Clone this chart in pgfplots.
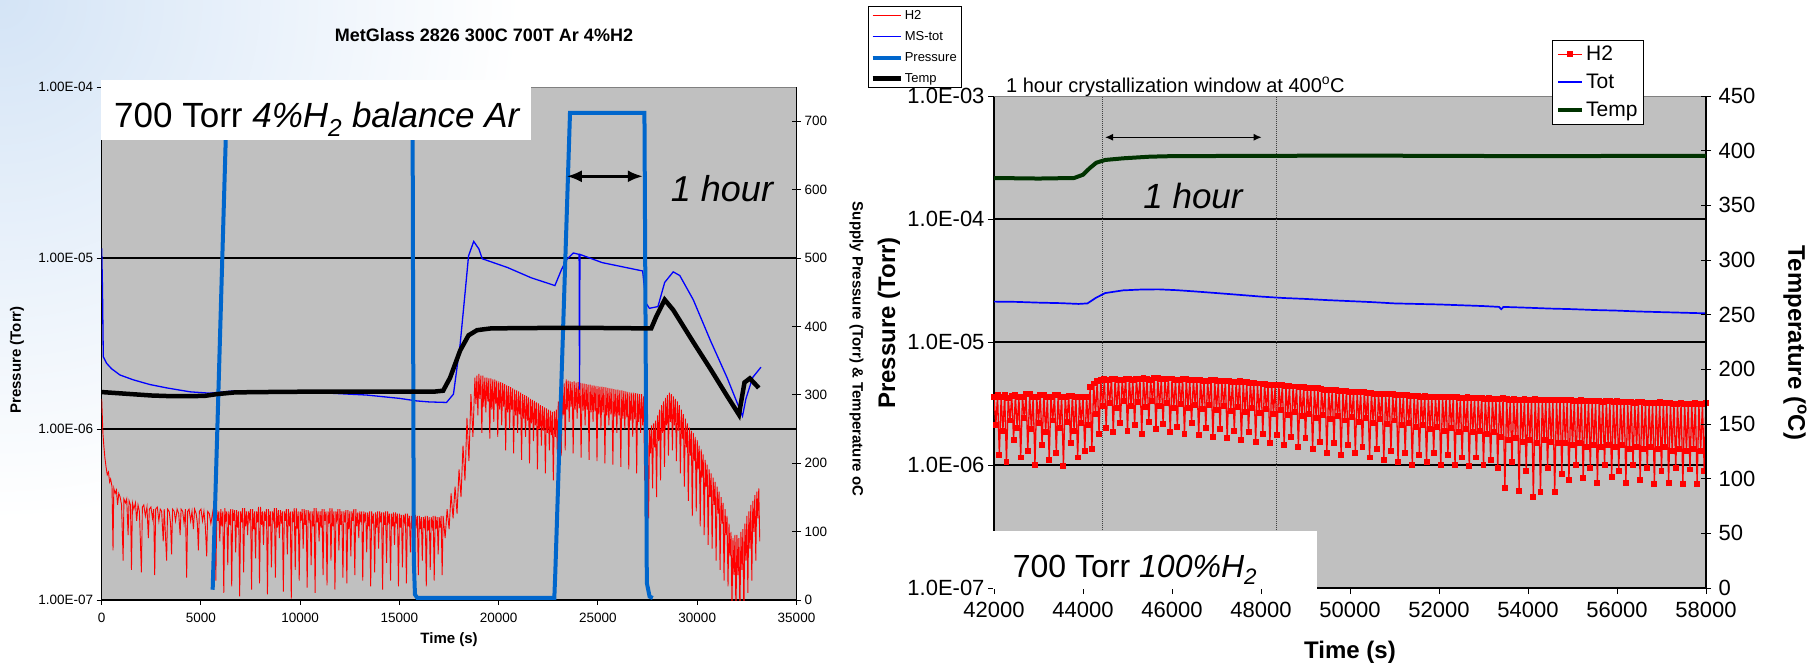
\documentclass[border=0pt]{standalone}
\usepackage{fontspec}
\setmainfont{Liberation Sans}
\usepackage{pgfplots}
\pgfplotsset{compat=1.18}
\usetikzlibrary{arrows.meta}

\definecolor{plotgray}{RGB}{192,192,192}
\definecolor{h2red}{RGB}{255,0,0}
\definecolor{totblue}{RGB}{0,0,255}
\definecolor{presblue}{RGB}{0,102,204}
\definecolor{tempgreen}{RGB}{0,51,0}
\definecolor{framegray}{RGB}{128,128,128}
\definecolor{slideblue}{RGB}{212,228,246}

\newcommand{\fs}[1]{\fontsize{#1}{#1}\selectfont}

\pgfplotsset{
  excelbase/.style={
    scale only axis,
    axis line style={-, line width=1.3pt, black},
    tick style={black, line width=1pt},
    xminorticks=false, yminorticks=false,
    scaled x ticks=false, scaled y ticks=false,
    /pgf/number format/1000 sep={},
    /pgf/number format/assume math mode=true,
  },
}

\begin{document}
\begin{tikzpicture}[x=1pt,y=1pt]
\useasboundingbox (0pt,0pt) rectangle (1810pt,665pt);
\begin{scope}
  \clip (0pt,0pt) rectangle (1810pt,665pt);
  \shade[inner color=slideblue, outer color=white] (0pt,665pt) circle (520pt);
\end{scope}

% ================= left panel: mass spectrometer signals =================
\begin{axis}[excelbase,
  width=694.8pt, height=513pt, at={(101.7pt,65pt)}, anchor=south west,
  xmin=0, xmax=35000, ymode=log, ymin=1e-7, ymax=1e-4,
  axis x line*=bottom, axis y line*=left,
  axis background/.style={fill=plotgray},
  xtick={0,5000,10000,15000,20000,25000,30000,35000},
  ytick={1e-7,1e-6,1e-5,1e-4},
  yticklabels={1.00E-07,1.00E-06,1.00E-05,1.00E-04},
  extra y ticks={1e-6,1e-5}, extra y tick labels={},
  extra y tick style={grid=major, major tick length=0pt},
  major grid style={black, line width=1.2pt},
  tick align=outside, major tick length=5pt,
  tick label style={font=\fs{13.5}},
  xticklabel style={yshift=-5pt},
  every axis x label/.style={at={(axis description cs:0.5,-0.078)}, anchor=center},
  every axis y label/.style={at={(axis description cs:-0.122,0.468)}, anchor=center, rotate=90},
  label style={font=\bfseries\fs{15}},
  every axis title/.style={at={(axis description cs:0.5502,1.1014)}, anchor=center},
  title style={font=\bfseries\fs{18}},
  xlabel={Time (s)}, ylabel={Pressure (Torr)},
  title={MetGlass 2826 300C 700T Ar 4\%H2},
]
\draw[framegray, line width=1.2pt] (rel axis cs:0,1) -- (rel axis cs:1,1);
% H2 partial pressure
\addplot[h2red, line width=0.9pt] coordinates {
(0,1.5e-6) (30,1.2e-6) (60,9.5e-7) (110,7.9e-7) (160,6.8e-7) (220,6.0e-7) (280,5.4e-7) (340,5.6e-7) (400,4.9e-7) (450,5.1e-7)
(520,4.6e-7) (570,1.95e-7) (610,4.5e-7) (680,4.2e-7) (740,4.4e-7) (800,3.6e-7) (860,4.2e-7) (930,4.0e-7) (1000,3.6e-7) (1080,1.7e-7)
(1120,3.9e-7) (1200,3.7e-7) (1260,3.9e-7) (1330,2.4e-7) (1380,3.8e-7) (1450,3.6e-7) (1500,1.5e-7) (1550,3.7e-7) (1620,3.4e-7) (1700,3.7e-7)
(1760,2.9e-7) (1830,3.6e-7) (1900,3.3e-7) (2000,1.45e-7) (2050,3.5e-7) (2120,3.6e-7) (2200,3.1e-7) (2280,3.5e-7) (2350,2.3e-7) (2400,3.4e-7)
(2480,3.5e-7) (2560,3.0e-7) (2620,3.4e-7) (2670,1.4e-7) (2720,3.4e-7) (2800,3.5e-7) (2880,2.9e-7) (2950,3.4e-7) (3020,3.3e-7) (3100,2.2e-7)
(3150,3.4e-7) (3270,1.7e-7) (3320,3.4e-7) (3400,3.3e-7) (3470,2.8e-7) (3520,1.85e-7) (3570,3.4e-7) (3650,3.3e-7) (3720,2.9e-7) (3800,3.4e-7)
(3880,3.2e-7) (3950,2.4e-7) (4000,3.4e-7) (4080,3.3e-7) (4150,2.8e-7) (4220,3.4e-7) (4280,1.35e-7) (4330,3.3e-7) (4400,3.4e-7) (4480,2.9e-7)
(4550,3.3e-7) (4620,2.6e-7) (4680,3.4e-7) (4760,3.2e-7) (4820,2.8e-7) (4870,1.95e-7) (4920,3.3e-7) (5000,3.4e-7) (5080,2.9e-7) (5150,3.3e-7)
(5220,2.7e-7) (5290,1.8e-7) (5340,3.3e-7) (5420,3.2e-7) (5500,2.8e-7)
(5600,3.3e-7) (5650,2.8e-7) (5700,3.4e-7) (5750,1.3e-7) (5800,3.35e-7) (5850,2.9e-7) (5900,3.3e-7) (5950,2.2e-7)
(6000,3.4e-7) (6050,2.7e-7) (6100,3.3e-7) (6150,1.1e-7) (6200,3.45e-7) (6250,2.95e-7) (6300,3.3e-7) (6350,1.6e-7)
(6400,3.3e-7) (6450,2.75e-7) (6500,3.4e-7) (6550,1.2e-7) (6600,3.4e-7) (6650,2.9e-7) (6700,3.35e-7) (6750,1.9e-7)
(6800,3.35e-7) (6850,2.65e-7) (6900,3.3e-7) (6950,1.05e-7) (7000,3.3e-7) (7050,2.85e-7) (7100,3.45e-7) (7150,1.45e-7)
(7200,3.45e-7) (7250,2.7e-7) (7300,3.3e-7) (7350,2.4e-7) (7400,3.3e-7) (7450,2.95e-7) (7500,3.4e-7) (7550,1.15e-7)
(7600,3.4e-7) (7650,2.6e-7) (7700,3.3e-7) (7750,1.75e-7) (7800,3.3e-7) (7850,2.85e-7) (7900,3.5e-7) (7950,1.25e-7)
(8000,3.5e-7) (8050,2.75e-7) (8100,3.3e-7) (8150,2.1e-7) (8200,3.3e-7) (8250,2.9e-7) (8300,3.4e-7) (8350,1.08e-7)
(8400,3.4e-7) (8450,2.7e-7) (8500,3.3e-7) (8550,1.55e-7) (8600,3.3e-7) (8650,2.95e-7) (8700,3.45e-7) (8750,1.35e-7)
(8800,3.45e-7) (8850,2.65e-7) (8900,3.35e-7) (8950,2.3e-7) (9000,3.35e-7) (9050,2.8e-7) (9100,3.3e-7) (9150,1.12e-7)
(9200,3.3e-7) (9250,2.9e-7) (9300,3.4e-7) (9350,1.85e-7) (9400,3.4e-7) (9450,2.7e-7) (9500,3.3e-7) (9550,1.02e-7)
(9600,3.3e-7) (9650,2.85e-7) (9700,3.45e-7) (9750,1.5e-7) (9800,3.45e-7) (9850,2.6e-7) (9900,3.3e-7) (9950,1.3e-7)
(10000,3.3e-7) (10050,2.9e-7) (10100,3.4e-7) (10150,2.0e-7) (10200,3.4e-7) (10250,2.75e-7) (10300,3.35e-7) (10350,1.18e-7)
(10400,3.35e-7) (10450,2.95e-7) (10500,3.3e-7) (10550,1.6e-7) (10600,3.3e-7) (10650,2.7e-7) (10700,3.45e-7) (10750,1.1e-7)
(10800,3.45e-7) (10850,2.85e-7) (10900,3.3e-7) (10950,2.2e-7) (11000,3.3e-7) (11050,2.65e-7) (11100,3.4e-7) (11150,1.4e-7)
(11200,3.4e-7) (11250,2.9e-7) (11300,3.3e-7) (11350,1.22e-7) (11400,3.3e-7) (11450,2.8e-7) (11500,3.45e-7) (11550,1.7e-7)
(11600,3.45e-7) (11650,2.7e-7) (11700,3.3e-7) (11750,1.15e-7) (11800,3.3e-7) (11850,2.95e-7) (11900,3.4e-7) (11950,1.95e-7)
(12000,3.4e-7) (12050,2.75e-7) (12100,3.3e-7) (12150,1.35e-7) (12200,3.3e-7) (12250,2.85e-7) (12300,3.35e-7) (12350,1.25e-7)
(12400,3.35e-7) (12450,2.6e-7) (12500,3.3e-7) (12550,1.8e-7) (12600,3.3e-7) (12650,2.9e-7) (12700,3.4e-7) (12750,1.4e-7)
(12800,3.4e-7) (12850,2.7e-7) (12900,3.25e-7) (12950,2.3e-7) (13000,3.3e-7) (13050,2.85e-7) (13100,3.3e-7) (13150,1.3e-7)
(13200,3.3e-7) (13250,2.95e-7) (13300,3.25e-7) (13350,1.9e-7) (13400,3.25e-7) (13450,2.7e-7) (13500,3.3e-7) (13550,1.2e-7)
(13600,3.3e-7) (13650,2.8e-7) (13700,3.2e-7) (13750,1.45e-7) (13800,3.25e-7) (13850,2.65e-7) (13900,3.3e-7) (13950,2.0e-7)
(14000,3.3e-7) (14050,2.85e-7) (14100,3.25e-7) (14150,1.15e-7) (14200,3.25e-7) (14250,2.75e-7) (14300,3.3e-7) (14350,1.65e-7)
(14400,3.3e-7) (14450,2.9e-7) (14500,3.2e-7) (14550,1.3e-7) (14600,3.2e-7) (14650,2.7e-7) (14700,3.25e-7) (14750,2.1e-7)
(14800,3.25e-7) (14850,2.8e-7) (14900,3.2e-7) (14950,1.2e-7) (15000,3.2e-7) (15050,2.65e-7) (15100,3.15e-7) (15150,1.55e-7)
(15200,3.15e-7) (15250,2.85e-7) (15300,3.2e-7) (15350,1.25e-7) (15400,3.2e-7) (15450,2.7e-7) (15500,3.1e-7) (15550,1.9e-7)
(15600,3.1e-7) (15650,2.6e-7) (15700,3.15e-7) (15750,1.15e-7) (15800,3.15e-7) (15850,2.75e-7) (15900,3.1e-7) (15950,1.4e-7)
(16000,3.1e-7) (16050,2.6e-7) (16100,3.05e-7) (16150,1.7e-7) (16200,3.05e-7) (16250,2.7e-7) (16300,3.1e-7) (16350,1.2e-7)
(16400,3.1e-7) (16450,2.55e-7) (16500,3.05e-7) (16550,1.5e-7) (16600,3.05e-7) (16650,2.7e-7) (16700,3.1e-7) (16750,1.3e-7)
(16800,3.1e-7) (16850,2.6e-7) (16900,3.05e-7) (16950,1.85e-7) (17000,3.05e-7) (17050,2.65e-7) (17100,3.1e-7) (17150,1.4e-7)
(17200,3.1e-7)
(17300,2.3e-7) (17400,3.4e-7) (17500,2.6e-7) (17600,4.2e-7) (17700,3.0e-7) (17800,4.6e-7) (17900,3.2e-7) (18000,5.8e-7) (18100,4.0e-7) (18200,8.0e-7)
(18300,5.0e-7) (18400,1.16e-6) (18500,6.5e-7) (18600,1.6e-6) (18700,9.0e-7)
(18800,2.0e-6) (18850,1.4e-6) (18900,2.05e-6) (18950,1.2e-6) (19000,2.1e-6) (19050,1.5e-6) (19100,2.05e-6) (19150,9.5e-7)
(19200,2.05e-6) (19250,1.35e-6) (19300,2.0e-6) (19350,1.25e-6) (19400,2.0e-6) (19450,1.45e-6) (19500,1.98e-6) (19550,8.8e-7)
(19600,1.98e-6) (19650,1.3e-6) (19700,1.95e-6) (19750,1.1e-6) (19800,1.95e-6) (19850,1.4e-6) (19900,1.92e-6) (19950,9.0e-7)
(20000,1.9e-6) (20050,1.3e-6) (20100,1.88e-6) (20150,1.05e-6) (20200,1.86e-6) (20250,1.35e-6) (20300,1.83e-6) (20350,7.5e-7)
(20400,1.8e-6) (20450,1.25e-6) (20500,1.78e-6) (20550,1.0e-6) (20600,1.76e-6) (20650,1.3e-6) (20700,1.73e-6) (20750,7.2e-7)
(20800,1.7e-6) (20850,1.2e-6) (20900,1.68e-6) (20950,9.5e-7) (21000,1.66e-6) (21050,1.22e-6) (21100,1.63e-6) (21150,6.6e-7)
(21200,1.6e-6) (21250,1.15e-6) (21300,1.58e-6) (21350,9.0e-7) (21400,1.56e-6) (21450,1.12e-6) (21500,1.53e-6) (21550,6.3e-7)
(21600,1.5e-6) (21650,1.08e-6) (21700,1.48e-6) (21750,8.5e-7) (21800,1.46e-6) (21850,1.05e-6) (21900,1.43e-6) (21950,5.8e-7)
(22000,1.41e-6) (22050,1.0e-6) (22100,1.38e-6) (22150,8.0e-7) (22200,1.36e-6) (22250,9.8e-7) (22300,1.34e-6) (22350,5.5e-7)
(22400,1.32e-6) (22450,9.5e-7) (22500,1.3e-6) (22550,7.5e-7) (22600,1.28e-6) (22650,9.2e-7) (22700,1.26e-6) (22750,5.0e-7)
(22800,1.27e-6) (22850,9.0e-7) (22900,1.3e-6) (22950,7.2e-7) (23000,1.45e-6) (23050,1.0e-6) (23100,1.6e-6) (23150,7.0e-7)
(23200,1.75e-6) (23250,1.2e-6) (23300,1.85e-6) (23350,7.5e-7) (23400,1.95e-6) (23450,1.3e-6) (23500,1.92e-6) (23550,1.1e-6)
(23600,1.9e-6) (23650,1.35e-6) (23700,1.88e-6) (23750,7.2e-7) (23800,1.9e-6) (23850,1.3e-6) (23900,1.87e-6) (23950,1.15e-6)
(24000,1.88e-6) (24050,1.32e-6) (24100,1.86e-6) (24150,6.8e-7) (24200,1.85e-6) (24250,1.28e-6) (24300,1.84e-6) (24350,1.05e-6)
(24400,1.83e-6) (24450,1.3e-6) (24500,1.82e-6) (24550,6.6e-7) (24600,1.82e-6) (24650,1.25e-6) (24700,1.8e-6) (24750,1.1e-6)
(24800,1.8e-6) (24850,1.27e-6) (24900,1.79e-6) (24950,6.5e-7) (25000,1.78e-6) (25050,1.22e-6) (25100,1.77e-6) (25150,1.0e-6)
(25200,1.77e-6) (25250,1.25e-6) (25300,1.76e-6) (25350,6.3e-7) (25400,1.75e-6) (25450,1.2e-6) (25500,1.74e-6) (25550,1.05e-6)
(25600,1.73e-6) (25650,1.22e-6) (25700,1.72e-6) (25750,6.2e-7) (25800,1.71e-6) (25850,1.18e-6) (25900,1.7e-6) (25950,9.5e-7)
(26000,1.7e-6) (26050,1.2e-6) (26100,1.68e-6) (26150,6.0e-7) (26200,1.68e-6) (26250,1.15e-6) (26300,1.67e-6) (26350,1.0e-6)
(26400,1.66e-6) (26450,1.17e-6) (26500,1.65e-6) (26550,5.8e-7) (26600,1.64e-6) (26650,1.12e-6) (26700,1.63e-6) (26750,9.0e-7)
(26800,1.63e-6) (26850,1.14e-6) (26900,1.62e-6) (26950,5.5e-7) (27000,1.61e-6) (27050,1.1e-6) (27100,1.6e-6) (27150,9.5e-7)
(27200,1.6e-6) (27250,1.05e-6) (27300,1.55e-6) (27350,5.0e-7)
(27400,9.7e-7) (27450,7.0e-7) (27500,1.0e-6) (27550,3.0e-7) (27600,1.0e-6) (27650,7.2e-7) (27700,1.05e-6) (27750,4.5e-7)
(27800,1.08e-6) (27850,7.8e-7) (27900,1.12e-6) (27950,4.0e-7) (28000,1.2e-6) (28050,8.5e-7) (28100,1.3e-6) (28150,5.0e-7)
(28200,1.38e-6) (28250,9.5e-7) (28300,1.45e-6) (28350,6.0e-7) (28400,1.52e-6) (28450,1.05e-6) (28500,1.58e-6) (28550,7.0e-7)
(28600,1.63e-6) (28650,1.1e-6) (28700,1.6e-6) (28750,7.5e-7) (28800,1.55e-6) (28850,1.05e-6) (28900,1.5e-6) (28950,6.5e-7)
(29000,1.45e-6) (29050,9.8e-7) (29100,1.38e-6) (29150,5.5e-7) (29200,1.3e-6) (29250,8.8e-7) (29300,1.22e-6) (29350,4.6e-7)
(29400,1.15e-6) (29450,7.8e-7) (29500,1.08e-6) (29550,3.8e-7) (29600,1.02e-6) (29650,7.0e-7) (29700,9.8e-7) (29750,3.1e-7)
(29800,9.5e-7) (29850,6.5e-7) (29900,9.0e-7) (29950,3.3e-7) (30000,8.6e-7) (30050,5.8e-7) (30100,8.0e-7) (30150,2.7e-7)
(30200,7.6e-7) (30250,5.2e-7) (30300,7.1e-7) (30350,2.4e-7) (30400,6.6e-7) (30450,4.6e-7) (30500,6.2e-7) (30550,2.1e-7)
(30600,5.8e-7) (30650,4.0e-7) (30700,5.5e-7) (30750,2.0e-7) (30800,5.2e-7) (30850,3.6e-7) (30900,4.9e-7) (30950,1.7e-7)
(31000,4.6e-7) (31050,3.2e-7) (31100,4.3e-7) (31150,1.5e-7) (31200,4.0e-7) (31250,2.8e-7) (31300,3.7e-7) (31350,1.3e-7)
(31400,3.4e-7) (31450,2.4e-7) (31500,3.1e-7) (31550,1.2e-7) (31600,2.8e-7) (31650,1.8e-7) (31700,2.5e-7) (31750,9e-8)
(31800,2.3e-7) (31850,1.4e-7) (31900,2.4e-7) (31950,8e-8) (32000,2.4e-7) (32050,1.4e-7) (32100,2.3e-7) (32150,8e-8)
(32200,2.5e-7) (32250,1.5e-7) (32300,2.6e-7) (32350,8e-8) (32400,2.8e-7) (32450,1.7e-7) (32500,3.1e-7) (32550,1.1e-7)
(32600,3.3e-7) (32650,2.0e-7) (32700,3.6e-7) (32750,1.3e-7) (32800,3.8e-7) (32850,2.5e-7) (32900,4.1e-7) (32950,1.7e-7)
(33000,4.3e-7) (33050,3.0e-7) (33100,4.5e-7) (33150,2.2e-7)
};
% total pressure from the mass spectrometer
\addplot[totblue, line width=1.3pt] coordinates {
(0,1.14e-5) (40,6.5e-6) (80,2.65e-6) (250,2.42e-6) (500,2.25e-6) (920,2.07e-6) (1590,1.94e-6) (2430,1.82e-6) (3270,1.74e-6) (4450,1.65e-6)
(5450,1.62e-6) (5900,1.64e-6) (6630,1.67e-6) (8500,1.67e-6) (9990,1.65e-6) (11500,1.62e-6) (13350,1.58e-6) (15020,1.51e-6) (15860,1.46e-6) (16500,1.44e-6)
(17370,1.43e-6) (17720,1.6e-6) (18060,3.16e-6) (18320,6.53e-6) (18480,1.03e-5) (18740,1.25e-5) (19000,1.13e-5) (19170,9.9e-6) (20440,8.8e-6) (21640,7.66e-6)
(22830,6.9e-6) (23170,8.6e-6) (23420,9.8e-6) (23760,1.07e-5) (24050,1.05e-5) (24070,1.7e-6) (24090,1.05e-5) (25210,9.4e-6) (27250,8.4e-6) (27420,5.45e-6)
(27590,5.08e-6) (28020,5.2e-6) (28360,7.2e-6) (28790,8.3e-6) (29120,7.9e-6) (29800,5.7e-6) (30660,3.3e-6) (31500,2.0e-6) (32280,1.19e-6) (32450,1.5e-6)
(32790,2.0e-6) (33210,2.3e-6)
};
\end{axis}

% left panel, secondary axis: supply pressure and temperature
\begin{axis}[excelbase,
  width=694.8pt, height=513pt, at={(101.7pt,65pt)}, anchor=south west,
  xmin=0, xmax=35000, ymin=0, ymax=750,
  axis x line=none, axis y line*=right,
  ytick={0,100,200,300,400,500,600,700},
  tick align=center, major tick length=9pt,
  tick label style={font=\fs{13.5}},
  every axis y label/.style={at={(axis description cs:1.0864,0.489)}, anchor=center, rotate=-90},
  label style={font=\bfseries\fs{15}},
  ylabel={Supply Pressure (Torr) \& Temperature oC},
  legend style={at={(1.103,1.158)}, anchor=north west, draw=black, fill=white,
    font=\fs{13}, row sep=6.5pt, inner sep=2pt, legend cell align=left},
  legend image code/.code={\draw[#1] (0pt,0pt) -- (28pt,0pt);},
]
\addlegendimage{h2red, line width=0.9pt}\addlegendentry{H2}
\addlegendimage{totblue, line width=1.3pt}\addlegendentry{MS-tot}
\addplot[presblue, line width=4pt] coordinates {
(5590,15) (6400,825) (15650,825) (15720,60) (15780,8) (15900,3) (22800,3) (22850,40) (23590,712) (27340,712)
(27400,380) (27460,25) (27600,5) (27760,3)
};
\addlegendentry{Pressure}
\addplot[black, line width=4.5pt] coordinates {
(0,304) (500,303) (1500,301) (2500,299) (3500,298) (4500,298) (5200,298.5) (5800,301) (6700,303.5) (8000,304)
(10000,304.5) (16700,304.5) (17200,306) (17550,325) (18060,365) (18480,387) (18910,394.5) (19590,397) (21000,397.5) (23840,398)
(26000,397.5) (27680,397) (27930,414) (28360,439) (28790,424) (29800,377) (30660,338) (31510,298) (32100,271) (32380,318)
(32650,324) (33100,310)
};
\addlegendentry{Temp}
\end{axis}

% ================= right panel: 100% H2 run =================
\begin{axis}[excelbase,
  width=712pt, height=492pt, at={(994pt,77pt)}, anchor=south west,
  xmin=42000, xmax=58000, ymode=log, ymin=1e-7, ymax=1e-3,
  axis x line*=bottom, axis y line*=left,
  axis background/.style={fill=plotgray},
  xtick={42000,44000,46000,48000,50000,52000,54000,56000,58000},
  ytick={1e-7,1e-6,1e-5,1e-4,1e-3},
  yticklabels={1.0E-07,1.0E-06,1.0E-05,1.0E-04,1.0E-03},
  extra y ticks={1e-6,1e-5,1e-4}, extra y tick labels={},
  extra y tick style={grid=major, major tick length=0pt},
  major grid style={black, line width=1.2pt},
  tick align=outside, major tick length=6pt,
  tick label style={font=\fs{22}},
  xticklabel style={yshift=-5pt},
  every axis x label/.style={at={(axis description cs:0.5,-0.13)}, anchor=center},
  every axis y label/.style={at={(axis description cs:-0.1475,0.5386)}, anchor=center, rotate=90},
  label style={font=\bfseries\fs{24}},
  xlabel={Time (s)}, ylabel={Pressure (Torr)},
]
\draw[framegray, line width=1.2pt] (rel axis cs:0,1) -- (rel axis cs:1,1);
\draw[black!75, line width=1pt, densely dotted] (axis cs:44443,1e-7) -- (axis cs:44443,1e-3);
\draw[black!75, line width=1pt, densely dotted] (axis cs:48337,1e-7) -- (axis cs:48337,1e-3);
% H2 partial pressure
\addplot[h2red, line width=1.3pt, mark=square*, mark size=2.3pt, mark options={solid, fill=h2red}] coordinates {
(42000,3.6e-6) (42040,2.1e-6) (42080,3.7e-6) (42120,1.2e-6) (42160,3.55e-6) (42200,1.9e-6) (42240,3.7e-6) (42280,1.05e-6)
(42320,3.5e-6) (42360,2.3e-6) (42400,3.65e-6) (42440,1.6e-6) (42480,3.7e-6) (42520,2.0e-6) (42560,3.6e-6) (42600,1.15e-6)
(42640,3.6e-6) (42680,2.4e-6) (42720,3.75e-6) (42760,1.3e-6) (42800,3.75e-6) (42840,1.95e-6) (42880,3.6e-6) (42920,1.0e-6)
(42960,3.6e-6) (43000,2.2e-6) (43040,3.7e-6) (43080,1.45e-6) (43120,3.7e-6) (43160,1.85e-6) (43200,3.55e-6) (43240,1.1e-6)
(43280,3.55e-6) (43320,2.3e-6) (43360,3.7e-6) (43400,1.25e-6) (43440,3.7e-6) (43480,2.0e-6) (43520,3.6e-6) (43560,9.8e-7)
(43600,3.6e-6) (43640,2.25e-6) (43680,3.65e-6) (43720,1.5e-6) (43760,3.65e-6) (43800,1.9e-6) (43840,3.55e-6) (43880,1.15e-6)
(43920,3.55e-6) (43960,2.2e-6) (44000,3.6e-6) (44040,1.3e-6) (44080,3.6e-6) (44120,2.1e-6) (44160,4.3e-6) (44200,1.35e-6)
(44240,4.6e-6) (44280,2.6e-6) (44320,4.85e-6) (44360,1.8e-6) (44400,4.9e-6) (44440,3.0e-6) (44480,5.0e-6) (44520,2.0e-6)
(44560,4.95e-6) (44600,3.2e-6) (44640,5.05e-6) (44680,1.85e-6) (44720,5.0e-6) (44760,2.9e-6) (44800,4.95e-6) (44840,2.2e-6)
(44880,4.9e-6) (44920,3.3e-6) (44960,5.05e-6) (45000,1.9e-6) (45040,5.0e-6) (45080,3.0e-6) (45120,4.9e-6) (45160,2.1e-6)
(45200,5.05e-6) (45240,3.25e-6) (45280,5.0e-6) (45320,1.8e-6) (45360,5.1e-6) (45400,2.95e-6) (45440,5.0e-6) (45480,2.25e-6)
(45520,4.95e-6) (45560,3.3e-6) (45600,5.1e-6) (45640,1.95e-6) (45680,5.1e-6) (45720,3.0e-6) (45760,5.0e-6) (45800,2.15e-6)
(45840,5.0e-6) (45880,3.2e-6) (45920,5.05e-6) (45960,1.85e-6) (46000,5.05e-6) (46040,2.9e-6) (46080,4.95e-6) (46120,2.05e-6)
(46160,4.95e-6) (46200,3.15e-6) (46240,5.0e-6) (46280,1.8e-6) (46320,5.0e-6) (46360,2.9e-6) (46400,4.9e-6) (46440,2.2e-6)
(46480,4.9e-6) (46520,3.1e-6) (46560,4.95e-6) (46600,1.75e-6) (46640,4.95e-6) (46680,2.85e-6) (46720,4.85e-6) (46760,2.0e-6)
(46800,4.85e-6) (46840,3.05e-6) (46880,4.9e-6) (46920,1.7e-6) (46960,4.9e-6) (47000,2.8e-6) (47040,4.8e-6) (47080,1.95e-6)
(47120,4.8e-6) (47160,3.0e-6) (47200,4.85e-6) (47240,1.65e-6) (47280,4.8e-6) (47320,2.75e-6) (47360,4.75e-6) (47400,1.9e-6)
(47440,4.75e-6) (47480,2.95e-6) (47520,4.8e-6) (47560,1.6e-6) (47600,4.7e-6) (47640,2.7e-6) (47680,4.7e-6) (47720,1.85e-6)
(47760,4.65e-6) (47800,2.9e-6) (47840,4.65e-6) (47880,1.55e-6) (47920,4.6e-6) (47960,2.65e-6) (48000,4.6e-6) (48040,1.8e-6)
(48080,4.55e-6) (48120,2.85e-6) (48160,4.5e-6) (48200,1.5e-6) (48240,4.5e-6) (48280,2.6e-6) (48320,4.5e-6) (48360,1.75e-6)
(48400,4.45e-6) (48440,2.8e-6) (48480,4.45e-6) (48520,1.45e-6) (48560,4.4e-6) (48600,2.55e-6) (48640,4.4e-6) (48680,1.7e-6)
(48720,4.35e-6) (48760,2.7e-6) (48800,4.35e-6) (48840,1.4e-6) (48880,4.3e-6) (48920,2.5e-6) (48960,4.3e-6) (49000,1.65e-6)
(49040,4.25e-6) (49080,2.6e-6) (49120,4.2e-6) (49160,1.35e-6) (49200,4.2e-6) (49240,2.4e-6) (49280,4.2e-6) (49320,1.55e-6)
(49360,4.15e-6) (49400,2.55e-6) (49440,4.1e-6) (49480,1.25e-6) (49520,4.1e-6) (49560,2.35e-6) (49600,4.1e-6) (49640,1.5e-6)
(49680,4.05e-6) (49720,2.5e-6) (49760,4.0e-6) (49800,1.2e-6) (49840,4.0e-6) (49880,2.3e-6) (49920,4.0e-6) (49960,1.45e-6)
(50000,3.95e-6) (50040,2.45e-6) (50080,3.95e-6) (50120,1.25e-6) (50160,3.9e-6) (50200,2.25e-6) (50240,3.9e-6) (50280,1.4e-6)
(50320,3.9e-6) (50360,2.4e-6) (50400,3.85e-6) (50440,1.15e-6) (50480,3.85e-6) (50520,2.2e-6) (50560,3.8e-6) (50600,1.35e-6)
(50640,3.8e-6) (50680,2.35e-6) (50720,3.8e-6) (50760,1.1e-6) (50800,3.75e-6) (50840,2.15e-6) (50880,3.75e-6) (50920,1.3e-6)
(50960,3.75e-6) (51000,2.3e-6) (51040,3.7e-6) (51080,1.05e-6) (51120,3.7e-6) (51160,2.1e-6) (51200,3.7e-6) (51240,1.25e-6)
(51280,3.7e-6) (51320,2.2e-6) (51360,3.65e-6) (51400,1.0e-6) (51440,3.65e-6) (51480,2.05e-6) (51520,3.65e-6) (51560,1.2e-6)
(51600,3.6e-6) (51640,2.1e-6) (51680,3.65e-6) (51720,1.05e-6) (51760,3.6e-6) (51800,1.95e-6) (51840,3.6e-6) (51880,1.25e-6)
(51920,3.6e-6) (51960,2.05e-6) (52000,3.55e-6) (52040,1.0e-6) (52080,3.55e-6) (52120,1.9e-6) (52160,3.6e-6) (52200,1.2e-6)
(52240,3.55e-6) (52280,2.0e-6) (52320,3.55e-6) (52360,1.0e-6) (52400,3.55e-6) (52440,1.85e-6) (52480,3.5e-6) (52520,1.15e-6)
(52560,3.5e-6) (52600,1.95e-6) (52640,3.55e-6) (52680,9.8e-7) (52720,3.5e-6) (52760,1.85e-6) (52800,3.5e-6) (52840,1.15e-6)
(52880,3.5e-6) (52920,1.9e-6) (52960,3.5e-6) (53000,1.0e-6) (53040,3.45e-6) (53080,1.8e-6) (53120,3.5e-6) (53160,1.1e-6)
(53200,3.45e-6) (53240,1.85e-6) (53280,3.45e-6) (53320,9.5e-7) (53360,3.45e-6) (53400,1.7e-6) (53440,3.5e-6) (53480,6.5e-7)
(53520,3.45e-6) (53560,1.6e-6) (53600,3.4e-6) (53640,1.05e-6) (53680,3.45e-6) (53720,1.65e-6) (53760,3.4e-6) (53800,6.2e-7)
(53840,3.4e-6) (53880,1.55e-6) (53920,3.45e-6) (53960,9.0e-7) (54000,3.4e-6) (54040,1.6e-6) (54080,3.4e-6) (54120,5.5e-7)
(54160,3.45e-6) (54200,1.5e-6) (54240,3.4e-6) (54280,6.0e-7) (54320,3.4e-6) (54360,1.6e-6) (54400,3.35e-6) (54440,9.5e-7)
(54480,3.4e-6) (54520,1.55e-6) (54560,3.35e-6) (54600,6.0e-7) (54640,3.35e-6) (54680,1.5e-6) (54720,3.4e-6) (54760,8.5e-7)
(54800,3.35e-6) (54840,1.5e-6) (54880,3.35e-6) (54920,7.5e-7) (54960,3.35e-6) (55000,1.45e-6) (55040,3.3e-6) (55080,1.0e-6)
(55120,3.3e-6) (55160,1.5e-6) (55200,3.35e-6) (55240,7.8e-7) (55280,3.3e-6) (55320,1.4e-6) (55360,3.3e-6) (55400,9.5e-7)
(55440,3.3e-6) (55480,1.45e-6) (55520,3.3e-6) (55560,7.2e-7) (55600,3.3e-6) (55640,1.4e-6) (55680,3.25e-6) (55720,1.0e-6)
(55760,3.3e-6) (55800,1.45e-6) (55840,3.3e-6) (55880,8.0e-7) (55920,3.25e-6) (55960,1.4e-6) (56000,3.3e-6) (56040,9.0e-7)
(56080,3.25e-6) (56120,1.45e-6) (56160,3.25e-6) (56200,7.2e-7) (56240,3.25e-6) (56280,1.35e-6) (56320,3.25e-6) (56360,1.0e-6)
(56400,3.2e-6) (56440,1.4e-6) (56480,3.25e-6) (56520,7.5e-7) (56560,3.25e-6) (56600,1.35e-6) (56640,3.2e-6) (56680,9.5e-7)
(56720,3.2e-6) (56760,1.4e-6) (56800,3.2e-6) (56840,7.0e-7) (56880,3.2e-6) (56920,1.35e-6) (56960,3.25e-6) (57000,9.0e-7)
(57040,3.2e-6) (57080,1.4e-6) (57120,3.2e-6) (57160,7.2e-7) (57200,3.2e-6) (57240,1.3e-6) (57280,3.15e-6) (57320,9.5e-7)
(57360,3.15e-6) (57400,1.35e-6) (57440,3.2e-6) (57480,7.0e-7) (57520,3.15e-6) (57560,1.3e-6) (57600,3.15e-6) (57640,9.2e-7)
(57680,3.15e-6) (57720,1.35e-6) (57760,3.2e-6) (57800,7.0e-7) (57840,3.15e-6) (57880,1.3e-6) (57920,3.15e-6) (57960,9.0e-7)
(58000,3.2e-6)
};
% total pressure
\addplot[totblue, line width=1.7pt] coordinates {
(42000,2.13e-5) (42500,2.12e-5) (43000,2.09e-5) (43500,2.07e-5) (43900,2.04e-5) (44100,2.06e-5) (44300,2.3e-5) (44500,2.5e-5) (44900,2.63e-5) (45300,2.67e-5)
(45700,2.68e-5) (46100,2.64e-5) (46500,2.58e-5) (47000,2.5e-5) (47500,2.42e-5) (48000,2.34e-5) (48500,2.28e-5) (49000,2.24e-5) (49500,2.19e-5) (50000,2.15e-5)
(50500,2.11e-5) (51000,2.06e-5) (51500,2.04e-5) (52000,2.02e-5) (52500,1.99e-5) (53000,1.96e-5) (53350,1.93e-5) (53400,1.85e-5) (53450,1.93e-5) (54000,1.9e-5)
(54500,1.87e-5) (55000,1.85e-5) (55500,1.82e-5) (56000,1.8e-5) (56500,1.77e-5) (57000,1.75e-5) (57500,1.73e-5) (58000,1.71e-5)
};
\end{axis}

% right panel, secondary axis: temperature
\begin{axis}[excelbase,
  width=712pt, height=492pt, at={(994pt,77pt)}, anchor=south west,
  xmin=42000, xmax=58000, ymin=0, ymax=450,
  axis x line=none, axis y line*=right,
  ytick={0,50,100,150,200,250,300,350,400,450},
  tick align=center, major tick length=10pt,
  tick label style={font=\fs{22}},
  yticklabel style={xshift=4pt},
  every axis y label/.style={at={(axis description cs:1.125,0.498)}, anchor=center, rotate=-90},
  label style={font=\bfseries\fs{24}},
  ylabel={Temperature (\textsuperscript{o}C)},
  legend style={at={(0.7837,1.114)}, anchor=north west, draw=black, fill=white,
    font=\fs{21}, row sep=8pt, inner sep=4pt, legend cell align=left},
  legend image code/.code={\draw[mark repeat=2,mark phase=2,#1] plot coordinates {(0pt,0pt) (12pt,0pt) (24pt,0pt)};},
]
\addlegendimage{h2red, line width=1.3pt, mark=square*, mark size=2.3pt, mark options={solid, fill=h2red}}\addlegendentry{H2}
\addlegendimage{totblue, line width=1.7pt}\addlegendentry{Tot}
\addplot[tempgreen, line width=4pt] coordinates {
(42000,375) (43000,374.5) (43800,375) (44000,378) (44150,384) (44300,389) (44500,391.5) (44900,393) (45500,394.5) (46000,395)
(50000,395.5) (54000,395) (58000,395.3)
};
\addlegendentry{Temp}
\end{axis}

% ================= annotations =================
\fill[white] (101pt,525pt) rectangle (531pt,585pt);
\node[anchor=base west, font=\fs{35}, inner sep=0pt] at (114pt,537pt) {700 Torr \textit{4\%H\textsubscript{2} balance Ar}};
\fill[white] (993pt,76pt) rectangle (1317pt,134pt);
\node[anchor=base, font=\fs{32}, inner sep=0pt] at (1135pt,88pt) {700 Torr \textit{100\%H\textsubscript{2}}};

\node[anchor=base, font=\itshape\fs{36}, inner sep=0pt] at (722pt,463.3pt) {1 hour};
\draw[line width=2.5pt, {Latex[length=15pt,width=12pt]}-{Latex[length=15pt,width=12pt]}] (566.8pt,488.7pt) -- (642.8pt,488.7pt);

\node[anchor=west, font=\fs{20}, inner sep=0pt] at (1006pt,578pt) {1 hour crystallization window at 400\textsuperscript{o}C};
\node[anchor=base, font=\itshape\fs{35}, inner sep=0pt] at (1193pt,456.7pt) {1 hour};
\draw[line width=1.3pt, {Latex[length=8pt,width=7pt]}-{Latex[length=8pt,width=7pt]}] (1105pt,527.7pt) -- (1261.7pt,527.7pt);
\end{tikzpicture}
\end{document}
